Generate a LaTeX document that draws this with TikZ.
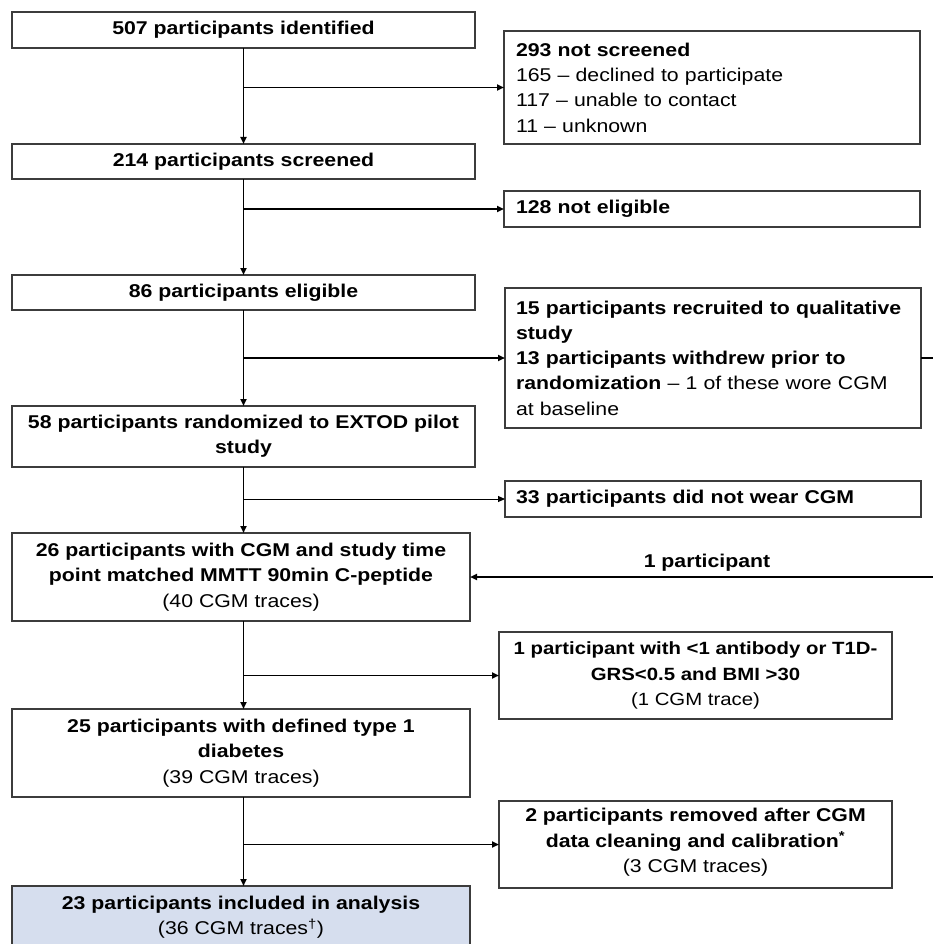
\documentclass[tikz,border=0pt]{standalone}
\usepackage{fontspec}
\setmainfont{Liberation Sans}[FakeStretch=1.15]
\usetikzlibrary{arrows.meta}
\definecolor{boxline}{RGB}{60,60,60}
\definecolor{finalfill}{RGB}{214,222,238}
\newcommand{\basefnt}{\fontsize{18.5}{25.3}\selectfont}
\newcommand{\smallfnt}{\fontsize{17.7}{25.5}\selectfont}
\begin{document}
\begin{tikzpicture}[x=1pt,y=-1pt,
  font=\basefnt,
  box/.style={draw=boxline, line width=1.2pt, inner sep=0pt, outer sep=0pt, align=center},
  lbox/.style={box, align=left},
  conn/.style={line width=1.8pt, draw=black},
  thinconn/.style={line width=1pt, draw=black},
  arr/.style={conn, -{Triangle[length=7pt,width=6pt]}},
  thinarr/.style={thinconn, -{Triangle[length=7pt,width=6pt]}}]
\useasboundingbox[fill=white] (0,0) rectangle (932,944);

% main column
\node[box, minimum width=463pt, minimum height=36pt] (b1) at (243.5,30) {\textbf{507 participants identified}};
\node[box, minimum width=463pt, minimum height=35pt] (b2) at (243.5,161.5) {\textbf{214 participants screened}};
\node[box, minimum width=463pt, minimum height=35pt] (b3) at (243.5,292.5) {\textbf{86 participants eligible}};
\node[box, minimum width=463pt, minimum height=61pt] (b4) at (243.5,436.5) {\textbf{58 participants randomized to EXTOD pilot}\\\textbf{study}};
\node[box, minimum width=458pt, minimum height=88pt] (b5) at (241,577) {\textbf{26 participants with CGM and study time}\\\textbf{point matched MMTT 90min C-peptide}\\(40 CGM traces)};
\node[box, minimum width=458pt, minimum height=88pt] (b6) at (241,753) {\textbf{25 participants with defined type 1}\\\textbf{diabetes}\\(39 CGM traces)};
\node[box, fill=finalfill, minimum width=458pt, minimum height=62pt] (b7) at (241,917) {\textbf{23 participants included in analysis}\\(36 CGM traces\textsuperscript{\textdagger})};

% side boxes
\node[lbox, minimum width=416pt, minimum height=113pt, text width=392pt] (r1) at (712,87.5) {\textbf{293 not screened}\\165 – declined to participate\\117 – unable to contact\\11 – unknown};
\node[lbox, minimum width=416pt, minimum height=36pt, text width=392pt] (r2) at (712,209) {\textbf{128 not eligible}};
\node[lbox, minimum width=416pt, minimum height=140pt, text width=394pt] (r3) at (713,358) {\mbox{\textbf{15 participants recruited to qualitative}}\\\textbf{study}\\\mbox{\textbf{13 participants withdrew prior to}}\\\mbox{\textbf{randomization} – 1 of these wore CGM}\\at baseline};
\node[lbox, minimum width=416pt, minimum height=36pt, text width=394pt] (r4) at (713,499) {\textbf{33 participants did not wear CGM}};
\node[box, font=\smallfnt, minimum width=393pt, minimum height=87pt] (r5) at (695.5,675.5) {\textbf{1 participant with <1 antibody or T1D-}\\\textbf{GRS<0.5 and BMI >30}\\(1 CGM trace)};
\node[box, minimum width=393pt, minimum height=87pt] (r6) at (695.5,844.5) {\textbf{2 participants removed after CGM}\\\textbf{data cleaning and calibration\textsuperscript{*}}\\(3 CGM traces)\\[-17pt]};

% vertical flow
\draw[arr] (b1.south) -- (b2.north);
\draw[arr] (b2.south) -- (b3.north);
\draw[arr] (b3.south) -- (b4.north);
\draw[arr] (b4.south) -- (b4.south |- b5.north);
\draw[arr] (b4.south |- b5.south) -- (b4.south |- b6.north);
\draw[arr] (b4.south |- b6.south) -- (b4.south |- b7.north);

% branches
\draw[arr] (b1.south |- r1.west) -- (r1.west);
\draw[arr] (b1.south |- r2.west) -- (r2.west);
\draw[arr] (b1.south |- r3.west) -- (r3.west);
\draw[thinarr] (b1.south |- r4.west) -- (r4.west);
\draw[arr] (b1.south |- r5.west) -- (r5.west);
\draw[arr] (b1.south |- r6.west) -- (r6.west);

% feedback
\draw[arr] (r3.east) -- ++(20,0) |- (b5.east);
\node[font=\basefnt\bfseries] (lab) at (707,563) {1 participant};
\end{tikzpicture}
\end{document}
